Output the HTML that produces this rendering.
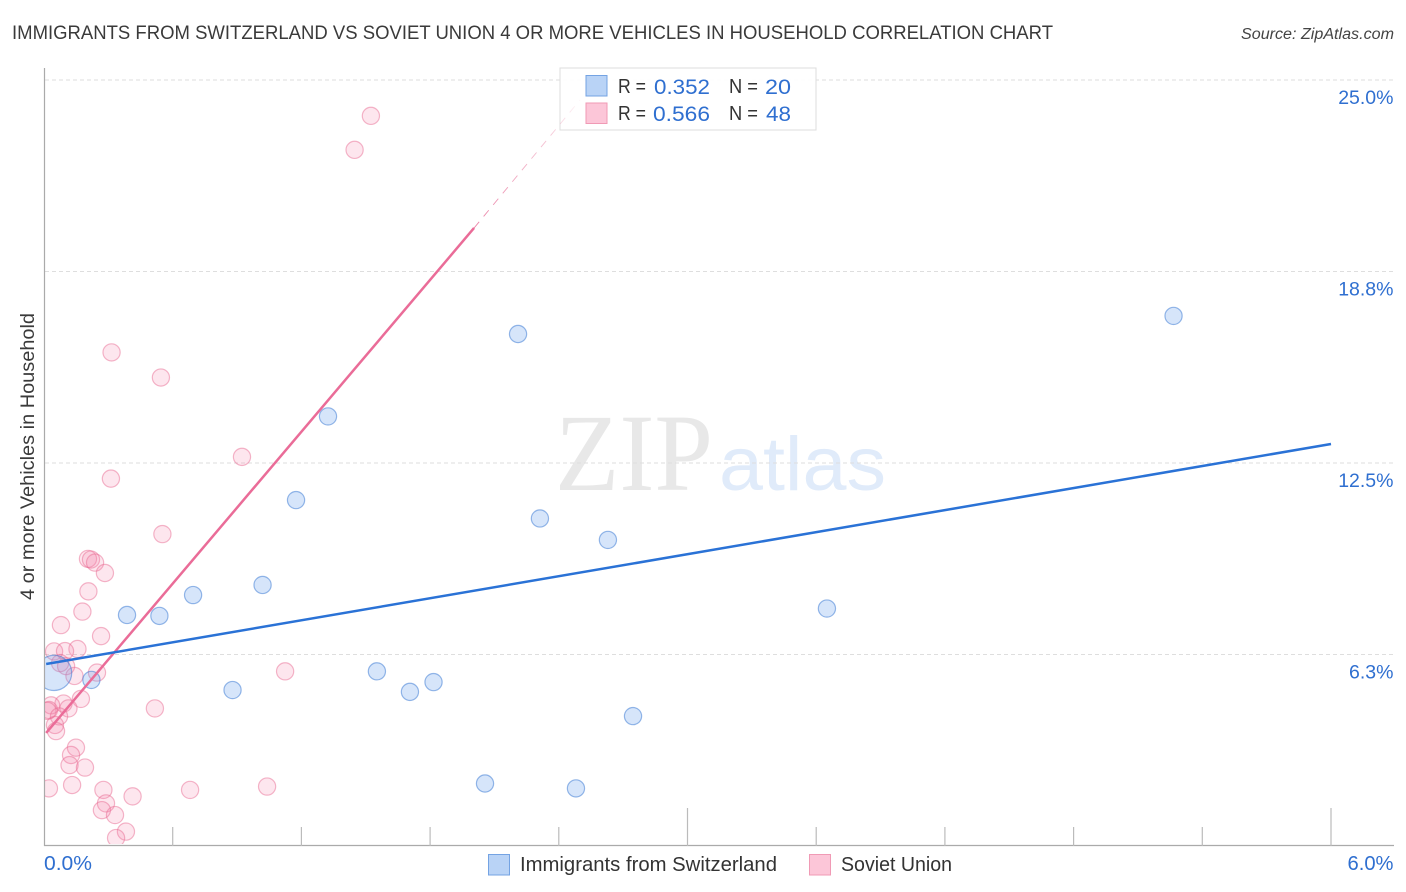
<!DOCTYPE html>
<html lang="en">
<head>
<meta charset="utf-8">
<title>Immigrants from Switzerland vs Soviet Union correlation chart</title>
<style>
html,body{margin:0;padding:0;background:#fff;width:1406px;height:892px;overflow:hidden}
svg{display:block;font-family:"Liberation Sans",sans-serif}
</style>
</head>
<body>
<svg id="chart" xmlns="http://www.w3.org/2000/svg" width="1406" height="892" viewBox="0 0 1406 892">
  <defs>
    <clipPath id="plot-clip"><rect x="45" y="60" width="1300" height="784"/></clipPath>
    <linearGradient id="fade-pink" gradientUnits="userSpaceOnUse" x1="474" y1="228" x2="580" y2="100">
      <stop offset="0" stop-color="#e9789f" stop-opacity="0.95"/>
      <stop offset="0.7" stop-color="#ee9db8" stop-opacity="0.6"/>
      <stop offset="1" stop-color="#ee9db8" stop-opacity="0.08"/>
    </linearGradient>
  </defs>
  <rect width="1406" height="892" fill="#ffffff"/>
  <text x="12" y="39" font-size="19.5" fill="#3a3a3a" textLength="1041" lengthAdjust="spacingAndGlyphs">IMMIGRANTS FROM SWITZERLAND VS SOVIET UNION 4 OR MORE VEHICLES IN HOUSEHOLD CORRELATION CHART</text>
  <text x="1394" y="39" font-size="15.5" font-style="italic" fill="#444444" text-anchor="end" textLength="153" lengthAdjust="spacingAndGlyphs">Source: ZipAtlas.com</text>

  <g>
    <text x="555" y="490" font-family="'Liberation Serif',serif" font-size="110" fill="#e8e8e8" textLength="158" lengthAdjust="spacingAndGlyphs">ZIP</text>
    <text x="719" y="490" font-size="76" fill="#e0ebfa" textLength="167" lengthAdjust="spacingAndGlyphs">atlas</text>
  </g>

  <g id="grid"></g>
  <g id="axes"></g>
  <g id="pink-points" clip-path="url(#plot-clip)"></g>
  <g id="blue-points" clip-path="url(#plot-clip)"></g>

  <text transform="translate(34,456.5) rotate(-90)" font-size="19" fill="#3a3a3a" text-anchor="middle" textLength="287" lengthAdjust="spacingAndGlyphs">4 or more Vehicles in Household</text>

  <g>
    <rect x="560" y="68" width="256" height="62" fill="#ffffff" fill-opacity="0.92" stroke="#dddddd" stroke-width="1"/>
    <rect x="586" y="75.5" width="21" height="20.5" fill="#b9d3f6" stroke="#74a3e3" stroke-width="1"/>
    <rect x="586" y="103" width="21" height="20.5" fill="#fcc6d8" stroke="#f09ab5" stroke-width="1"/>
    <g font-size="20">
      <text x="618" y="93" fill="#333333" textLength="28" lengthAdjust="spacingAndGlyphs">R =</text>
      <text x="654" y="94" fill="#2f6fd0" font-size="21" textLength="56" lengthAdjust="spacingAndGlyphs">0.352</text>
      <text x="729" y="93" fill="#333333" textLength="29" lengthAdjust="spacingAndGlyphs">N =</text>
      <text x="765" y="94" fill="#2f6fd0" font-size="21" textLength="26" lengthAdjust="spacingAndGlyphs">20</text>
      <text x="618" y="120" fill="#333333" textLength="28" lengthAdjust="spacingAndGlyphs">R =</text>
      <text x="653" y="121" fill="#2f6fd0" font-size="21" textLength="57" lengthAdjust="spacingAndGlyphs">0.566</text>
      <text x="729" y="120" fill="#333333" textLength="29" lengthAdjust="spacingAndGlyphs">N =</text>
      <text x="766" y="121" fill="#2f6fd0" font-size="21" textLength="25" lengthAdjust="spacingAndGlyphs">48</text>
    </g>
  </g>

  <g id="trends"></g>

  <g>
    <rect x="488.5" y="854.5" width="21" height="20.5" fill="#b9d3f6" stroke="#74a3e3" stroke-width="1"/>
    <text x="520" y="871" font-size="20" fill="#333333" textLength="257" lengthAdjust="spacingAndGlyphs">Immigrants from Switzerland</text>
    <rect x="809.5" y="854.5" width="21" height="20.5" fill="#fcc6d8" stroke="#f09ab5" stroke-width="1"/>
    <text x="841" y="871" font-size="20" fill="#333333" textLength="111" lengthAdjust="spacingAndGlyphs">Soviet Union</text>
  </g>
</svg>
<script>
const yTickValues = [25, 18.75, 12.5, 6.25];
const yTickLabels = ["25.0%", "18.8%", "12.5%", "6.3%"];
const xTickValues = [0.6, 1.2, 1.8, 2.4, 3.0, 3.6, 4.2, 4.8, 5.4, 6.0];
const xMajorTicks = [3.0, 6.0];
const xEndValues = [0, 6];
const xEndLabels = ["0.0%", "6.0%"];

const blueX = [5.266, 2.210, 1.324, 1.175, 2.312, 2.629, 1.019, 0.695, 0.387, 0.538, 3.650, 1.552, 0.221, 0.879, 1.706, 1.816, 2.746, 2.056, 2.480, 0.047];
const blueY = [17.30, 16.71, 14.02, 11.29, 10.69, 9.99, 8.52, 8.19, 7.54, 7.51, 7.75, 5.70, 5.42, 5.09, 5.03, 5.35, 4.24, 2.04, 1.88, 5.65];
const blueWeight = [1, 1, 1, 1, 1, 1, 1, 1, 1, 1, 1, 1, 1, 1, 1, 1, 1, 1, 1, 4.2];

const pinkX = [1.524, 1.448, 0.315, 0.545, 0.923, 0.312, 0.552, 0.205, 0.219, 0.238, 0.284, 0.207, 0.179, 0.079, 0.266, 0.156, 0.047, 0.098, 0.075, 0.103, 1.124, 0.247, 0.142, 0.172, 0.091, 0.517, 0.114, 0.033, 0.023, 0.016, 0.070, 0.051, 0.056, 0.149, 0.126, 0.119, 0.191, 0.023, 0.131, 0.277, 0.681, 1.040, 0.413, 0.289, 0.270, 0.331, 0.382, 0.336];
const pinkY = [23.83, 22.72, 16.11, 15.29, 12.70, 11.99, 10.18, 9.37, 9.35, 9.25, 8.91, 8.31, 7.65, 7.21, 6.85, 6.43, 6.35, 6.36, 5.97, 5.87, 5.70, 5.66, 5.55, 4.80, 4.65, 4.49, 4.49, 4.59, 4.44, 4.41, 4.23, 3.95, 3.75, 3.21, 2.97, 2.64, 2.56, 1.88, 1.99, 1.83, 1.83, 1.94, 1.62, 1.39, 1.17, 1.01, 0.47, 0.26];

const blueTrendX = [0.01, 6.0];
const blueTrendY = [5.94, 13.12];
const pinkTrendX = [0.01, 2.005];
const pinkTrendY = [3.69, 20.17];
const pinkExtensionX = [2.005, 2.499];
const pinkExtensionY = [20.17, 24.35];

const NS = "http://www.w3.org/2000/svg";
function xScale(v) { return 44 + v * (1287 / 6); }
function yScale(v) { return 846 - v * (766 / 25); }
function make(tag, attrs, parent) {
  const el = document.createElementNS(NS, tag);
  Object.keys(attrs).forEach(function (k) { el.setAttribute(k, attrs[k]); });
  parent.appendChild(el);
  return el;
}

const grid = document.getElementById("grid");
const axes = document.getElementById("axes");
yTickValues.forEach(function (v, i) {
  const line = make("line", { x1: 45, x2: 1394, y1: yScale(v), y2: yScale(v), stroke: "#dedede", "stroke-width": 1, "stroke-dasharray": "4 3" }, grid);
  
  
  const label = make("text", { x: 1393.5, y: yScale(v) + 24, "font-size": 19.5, fill: "#2f6fd0", "text-anchor": "end" }, axes);
  
  
  label.textContent = yTickLabels[i];
});

const yAxis = make("line", { x1: 44.5, x2: 44.5, y1: 68, y2: 846, stroke: "#aaaaaa", "stroke-width": 1.2 }, axes);


const xAxis = make("line", { x1: 44, x2: 1394, y1: 845.5, y2: 845.5, stroke: "#aaaaaa", "stroke-width": 1.2 }, axes);



xTickValues.forEach(function (v) {
  const top = xMajorTicks.indexOf(v) >= 0 ? 808 : 827;
  const tick = make("line", { x1: xScale(v), x2: xScale(v), y1: top, y2: 846, stroke: "#bbbbbb", "stroke-width": 1.2 }, axes);
  
  
});

xEndValues.forEach(function (v, i) {
  const label = make("text", { x: i === 0 ? xScale(v) : 1393.5, y: 870, "font-size": 20, fill: "#2f6fd0", "text-anchor": i === 0 ? "start" : "end", textLength: i === 0 ? 48 : 46, lengthAdjust: "spacingAndGlyphs" }, axes);
  
  
  label.textContent = xEndLabels[i];
});

const pinkGroup = document.getElementById("pink-points");
pinkX.forEach(function (v, i) {
  const c = make("circle", { cx: xScale(v), cy: yScale(pinkY[i]), r: 8.6, fill: "rgba(244,130,168,0.2)", stroke: "rgba(232,105,145,0.48)", "stroke-width": 1.2 }, pinkGroup);
  
  
});

const blueGroup = document.getElementById("blue-points");
blueX.forEach(function (v, i) {
  const c = make("circle", { cx: xScale(v), cy: yScale(blueY[i]), r: 8.6 * Math.sqrt(blueWeight[i]), fill: "rgba(105,160,235,0.27)", stroke: "rgba(50,115,210,0.5)", "stroke-width": 1.2 }, blueGroup);
  
  
});

const trends = document.getElementById("trends");
const pinkExt = make("line", { x1: xScale(pinkExtensionX[0]), y1: yScale(pinkExtensionY[0]), x2: xScale(pinkExtensionX[1]), y2: yScale(pinkExtensionY[1]), stroke: "url(#fade-pink)", "stroke-width": 0.9, "stroke-dasharray": "8 7" }, trends);


const pinkTrend = make("line", { x1: xScale(pinkTrendX[0]), y1: yScale(pinkTrendY[0]), x2: xScale(pinkTrendX[1]), y2: yScale(pinkTrendY[1]), stroke: "#ea6c98", "stroke-width": 2.5 }, trends);


const blueTrend = make("line", { x1: xScale(blueTrendX[0]), y1: yScale(blueTrendY[0]), x2: xScale(blueTrendX[1]), y2: yScale(blueTrendY[1]), stroke: "#2a72d6", "stroke-width": 2.5 }, trends);


</script>
</body>
</html>
